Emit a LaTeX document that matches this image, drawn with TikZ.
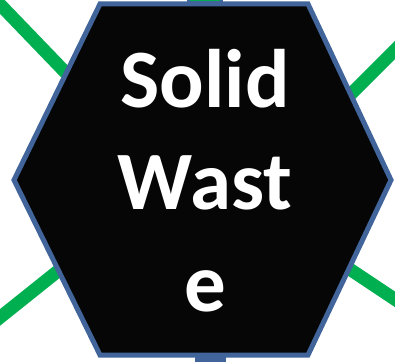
\documentclass[tikz,border=0pt]{standalone}
\usepackage{fontspec}
\setmainfont{Carlito}
\definecolor{hexblue}{HTML}{41659A}
\definecolor{linkgreen}{HTML}{00B050}
\definecolor{hexfill}{HTML}{060606}
\tikzset{
  link/.style={draw=linkgreen, line width=13pt, line cap=butt},
  hexborder/.style={draw=hexblue, line width=5pt, fill=hexfill, line join=miter},
  label/.style={text=white, font=\bfseries\fontsize{83}{102}\selectfont, align=center, inner sep=0pt}
}
\begin{document}
\begin{tikzpicture}[x=1pt,y=-1pt]
\useasboundingbox (0,0) rectangle (395,361);
% outer ends of connectors
\coordinate (tlo) at (-12,-8);
\coordinate (tli) at (66,73);
\coordinate (tro) at (405,40);
\coordinate (tri) at (350,95);
\coordinate (blo) at (-12,327);
\coordinate (bli) at (63,267);
\coordinate (bro) at (405,306);
\coordinate (bri) at (348,268);
\draw[link] (tlo) -- (tli);
\draw[link] (tro) -- (tri);
\draw[link] (blo) -- (bli);
\draw[link] (bro) -- (bri);
% top stub
\fill[hexblue] (187,-1) rectangle (223,6);
\fill[linkgreen] (190,-1) rectangle (220,1.5);
% hexagon
\draw[hexborder] (100,4) -- (308,4) -- (391,180) -- (308,355) -- (100,355) -- (14,180) -- cycle;
% bottom stub
\fill[hexblue] (195,355) rectangle (226,362);
\node[label] (txt) at (205,181) {Solid\\Wast\\e};
\end{tikzpicture}
\end{document}
